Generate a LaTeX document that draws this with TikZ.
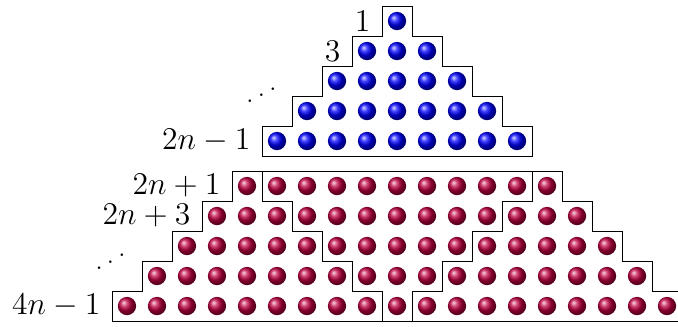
\RequirePackage{fix-cm}
\documentclass[tikz,border=0pt]{standalone}
\usepackage{graphicx}
\begin{document}
\begin{tikzpicture}[x=0.5cm,y=-0.5cm,
  blueball/.style={circle,inner sep=0pt,minimum size=0.305cm,ball color=blue},
  redball/.style={circle,inner sep=0pt,minimum size=0.305cm,ball color=purple},
  outline/.style={line width=0.45pt,line join=miter},
  lbl/.style={anchor=east,font=\fontsize{15}{18}\selectfont,xshift=-0.07cm},
  dotslbl/.style={anchor=base,font=\fontsize{15}{18}\selectfont,inner sep=0pt}]
\useasboundingbox (-13.2333,-0.2) rectangle (9.3667,10.6667);
% blue triangle
\foreach \k in {1,...,5}{
  \pgfmathtruncatemacro\nb{2*\k-1}
  \foreach \c in {1,...,\nb}{
    \node[blueball] (b-\k-\c) at ({\c-\k},{\k-0.5}) {};
  }
}
\draw[outline] (-0.5,0) -- (0.5,0) -- (0.5,1) -- (1.5,1) -- (1.5,2) -- (2.5,2)
  -- (2.5,3) -- (3.5,3) -- (3.5,4) -- (4.5,4) -- (4.5,5) -- (-4.5,5)
  -- (-4.5,4) -- (-3.5,4) -- (-3.5,3) -- (-2.5,3) -- (-2.5,2) -- (-1.5,2)
  -- (-1.5,1) -- (-0.5,1) -- cycle;
% red trapezoid
\foreach \k in {1,...,5}{
  \pgfmathtruncatemacro\nb{2*\k+9}
  \foreach \c in {1,...,\nb}{
    \node[redball] (r-\k-\c) at ({\c-\k-5},{\k+5}) {};
  }
}
\draw[outline] (-5.5,5.5) -- (5.5,5.5) -- (5.5,6.5) -- (6.5,6.5) -- (6.5,7.5)
  -- (7.5,7.5) -- (7.5,8.5) -- (8.5,8.5) -- (8.5,9.5) -- (9.5,9.5) -- (9.5,10.5)
  -- (-9.5,10.5) -- (-9.5,9.5) -- (-8.5,9.5) -- (-8.5,8.5) -- (-7.5,8.5)
  -- (-7.5,7.5) -- (-6.5,7.5) -- (-6.5,6.5) -- (-5.5,6.5) -- cycle;
\draw[outline] (-4.5,5.5) -- (-4.5,6.5) -- (-3.5,6.5) -- (-3.5,7.5) -- (-2.5,7.5)
  -- (-2.5,8.5) -- (-1.5,8.5) -- (-1.5,9.5) -- (-0.5,9.5) -- (-0.5,10.5);
\draw[outline] (4.5,5.5) -- (4.5,6.5) -- (3.5,6.5) -- (3.5,7.5) -- (2.5,7.5)
  -- (2.5,8.5) -- (1.5,8.5) -- (1.5,9.5) -- (0.5,9.5) -- (0.5,10.5);
% labels
\node[lbl] (l1) at (-0.5,0.5) {$1$};
\node[lbl] (l3) at (-1.5,1.5) {$3$};
\node[dotslbl] (d1) at (-4.52,3.30) {\reflectbox{$\ddots$}};
\node[lbl] (l2n1) at (-4.5,4.5) {$2n-1$};
\node[lbl] (r1) at (-5.5,6) {$2n+1$};
\node[lbl] (r3) at (-6.5,7) {$2n+3$};
\node[dotslbl] (d2) at (-9.55,8.85) {\reflectbox{$\ddots$}};
\node[lbl] (r4) at (-9.5,10) {$4n-1$};
\end{tikzpicture}
\end{document}
